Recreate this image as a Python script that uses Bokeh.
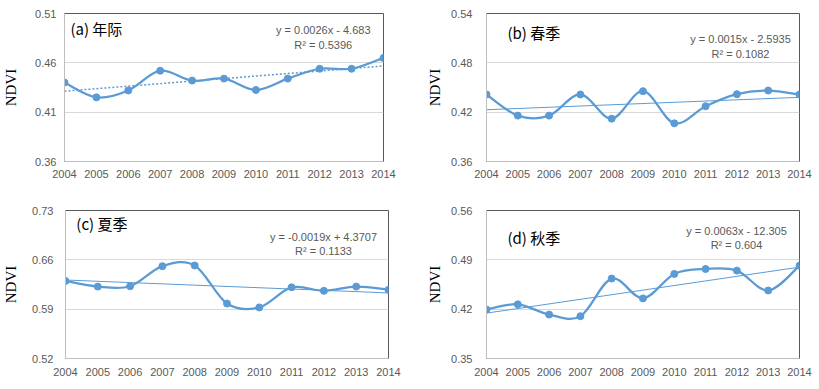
import numpy as np
from bokeh.plotting import figure
from bokeh.layouts import row, column
from bokeh.models import Range1d, FixedTicker, NumeralTickFormatter, Label
from bokeh.embed import file_html
from bokeh.resources import INLINE

years = [2004, 2005, 2006, 2007, 2008, 2009, 2010, 2011, 2012, 2013, 2014]
ndvi_annual = [0.440, 0.425, 0.432, 0.452, 0.442, 0.444, 0.4325, 0.444, 0.454, 0.454, 0.465]
ndvi_spring = [0.4415, 0.4158, 0.4158, 0.4415, 0.4121, 0.4455, 0.4064, 0.4272, 0.4419, 0.4463, 0.4415]
ndvi_summer = [0.630, 0.622, 0.6225, 0.651, 0.652, 0.598, 0.5925, 0.621, 0.616, 0.622, 0.6175]
ndvi_autumn = [0.4194, 0.4269, 0.4123, 0.410, 0.4634, 0.4353, 0.470, 0.477, 0.4747, 0.4465, 0.4817]

ticks_annual = [0.36, 0.41, 0.46, 0.51]
ticks_spring = [0.36, 0.42, 0.48, 0.54]
ticks_summer = [0.52, 0.59, 0.66, 0.73]
ticks_autumn = [0.35, 0.42, 0.49, 0.56]

titles = ["(a) 年际", "(b) 春季", "(c) 夏季", "(d) 秋季"]
equations = ["y = 0.0026x - 4.683", "y = 0.0015x - 2.5935", "y = -0.0019x + 4.3707", "y = 0.0063x - 12.305"]
r2_texts = ["R² = 0.5396", "R² = 0.1082", "R² = 0.1133", "R² = 0.604"]

BLUE = "#5B9BD5"
GRAY_TXT = "#595959"

# layout configs (page-pixel geometry)
panels = [
    dict(vals=ndvi_annual, ticks=ticks_annual, w=410, h=195, L=60, R=383, T=13, B=161,
         bl=60, br=27, bt=13, bb=34, tstand=8, ystand=8, lstand=13, dotted=True,
         title_xy=(66, 28), eq_xy=(322, 29), r2_xy=(322, 44)),
    dict(vals=ndvi_spring, ticks=ticks_spring, w=409, h=195, L=486, R=799, T=13, B=161,
         bl=76, br=20, bt=13, bb=34, tstand=8, ystand=14, lstand=5, dotted=False,
         title_xy=(507, 32), eq_xy=(740, 38), r2_xy=(740, 53)),
    dict(vals=ndvi_summer, ticks=ticks_summer, w=410, h=194, L=60, R=388, T=210, B=359,
         bl=60, br=22, bt=15, bb=30, tstand=9, ystand=12, lstand=10, dotted=False,
         title_xy=(71, 223), eq_xy=(322, 237), r2_xy=(322, 251)),
    dict(vals=ndvi_autumn, ticks=ticks_autumn, w=409, h=194, L=486, R=799, T=208, B=358,
         bl=76, br=20, bt=13, bb=31, tstand=9, ystand=14, lstand=5, dotted=False,
         title_xy=(507, 235), eq_xy=(736, 229), r2_xy=(736, 243)),
]


def make_panel(cfg, title, eq, r2):
    vals = cfg["vals"]
    ticks = cfg["ticks"]
    x0, x1 = years[0], years[-1]
    y0, y1 = ticks[0], ticks[-1]
    p = figure(width=cfg["w"], height=cfg["h"],
               x_range=Range1d(x0, x1), y_range=Range1d(y0, y1),
               output_backend="svg", toolbar_location=None,
               min_border_left=cfg["bl"], min_border_right=cfg["br"],
               min_border_top=cfg["bt"], min_border_bottom=cfg["bb"])
    p.background_fill_color = "white"
    p.border_fill_color = "white"
    p.outline_line_color = "#595959"
    p.outline_line_width = 1

    p.xgrid.grid_line_color = None
    p.ygrid.grid_line_color = "#D9D9D9"
    p.ygrid.grid_line_width = 1
    p.yaxis.ticker = FixedTicker(ticks=ticks)
    p.xaxis.ticker = FixedTicker(ticks=years)
    p.yaxis.formatter = NumeralTickFormatter(format="0.00")

    for ax in (p.xaxis[0], p.yaxis[0]):
        ax.axis_line_color = "#BFBFBF"
        ax.axis_line_width = 1
        ax.major_tick_line_color = None
        ax.minor_tick_line_color = None
        ax.major_tick_out = 0
        ax.major_tick_in = 0
        ax.minor_tick_out = 0
        ax.major_label_text_font = "Liberation Sans"
        ax.major_label_text_font_size = "11px"
        ax.major_label_text_color = GRAY_TXT
    p.xaxis.major_label_standoff = cfg["tstand"]
    p.yaxis.major_label_standoff = cfg["ystand"]
    p.yaxis.axis_label = "NDVI"
    p.yaxis.axis_label_text_font = "Liberation Serif"
    p.yaxis.axis_label_text_font_size = "15px"
    p.yaxis.axis_label_text_font_style = "normal"
    p.yaxis.axis_label_text_color = "#000000"
    p.yaxis.axis_label_standoff = cfg["lstand"]

    # linear trend from data
    k, b = np.polyfit(years, vals, 1)
    tx = [x0, x1]
    ty = [k * x0 + b, k * x1 + b]
    if cfg["dotted"]:
        p.line(tx, ty, line_color=BLUE, line_width=1.5, line_dash="2 2")
    else:
        p.line(tx, ty, line_color=BLUE, line_width=1)

    # smoothed line (Catmull-Rom style bezier segments, as in Excel smoothing)
    n = len(vals)
    xs0, ys0, xs1, ys1, cx0, cy0, cx1, cy1 = [], [], [], [], [], [], [], []
    for i in range(n - 1):
        pxp, pyp = (years[i - 1], vals[i - 1]) if i > 0 else (years[i], vals[i])
        pxn, pyn = (years[i + 2], vals[i + 2]) if i + 2 < n else (years[i + 1], vals[i + 1])
        xs0.append(years[i]); ys0.append(vals[i])
        xs1.append(years[i + 1]); ys1.append(vals[i + 1])
        cx0.append(years[i] + (years[i + 1] - pxp) / 6.0)
        cy0.append(vals[i] + (vals[i + 1] - pyp) / 6.0)
        cx1.append(years[i + 1] - (pxn - years[i]) / 6.0)
        cy1.append(vals[i + 1] - (pyn - vals[i]) / 6.0)
    p.bezier(x0=xs0, y0=ys0, x1=xs1, y1=ys1, cx0=cx0, cy0=cy0, cx1=cx1, cy1=cy1,
             line_color=BLUE, line_width=2.25)
    p.scatter(years, vals, size=7, fill_color=BLUE, line_color=BLUE)

    def to_data(px, py):
        dx = x0 + (px - cfg["L"]) / (cfg["R"] - cfg["L"]) * (x1 - x0)
        dy = y1 - (py - cfg["T"]) / (cfg["B"] - cfg["T"]) * (y1 - y0)
        return dx, dy

    tx_, ty_ = to_data(*cfg["title_xy"])
    p.add_layout(Label(x=tx_, y=ty_, text=title, text_font="Noto Sans CJK SC",
                       text_font_size="15px", text_color="#000000",
                       text_align="left", text_baseline="middle"))
    ex, ey = to_data(*cfg["eq_xy"])
    p.add_layout(Label(x=ex, y=ey, text=eq, text_font="Liberation Sans",
                       text_font_size="11px", text_color=GRAY_TXT,
                       text_align="center", text_baseline="middle"))
    rx, ry = to_data(*cfg["r2_xy"])
    p.add_layout(Label(x=rx, y=ry, text=r2, text_font="Liberation Sans",
                       text_font_size="11px", text_color=GRAY_TXT,
                       text_align="center", text_baseline="middle"))
    return p


figs = [make_panel(c, t, e, r) for c, t, e, r in zip(panels, titles, equations, r2_texts)]
layout = column(row(figs[0], figs[1], spacing=0), row(figs[2], figs[3], spacing=0), spacing=0)

open("out.html", "w").write(file_html(layout, INLINE))
